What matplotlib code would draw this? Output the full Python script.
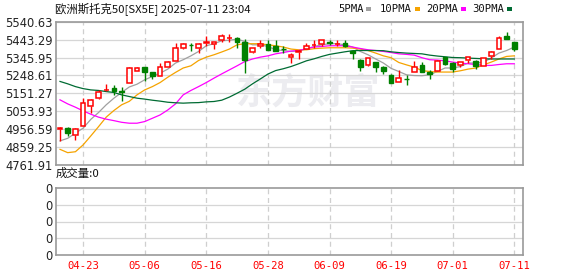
import numpy as np
import matplotlib
matplotlib.use('Agg')
import matplotlib.pyplot as plt
from matplotlib.patches import Rectangle

# ---------------- data ----------------
dates = ['04-16', '04-17', '04-22', '04-23', '04-24', '04-25', '04-28', '04-29', '04-30', '05-02',
         '05-05', '05-06', '05-07', '05-08', '05-09', '05-12', '05-13', '05-14', '05-15', '05-16',
         '05-19', '05-20', '05-21', '05-22', '05-23', '05-26', '05-27', '05-28', '05-29', '05-30',
         '06-02', '06-03', '06-04', '06-05', '06-06', '06-09', '06-10', '06-11', '06-12', '06-13',
         '06-16', '06-17', '06-18', '06-19', '06-20', '06-23', '06-24', '06-25', '06-26', '06-27',
         '06-30', '07-01', '07-02', '07-03', '07-04', '07-07', '07-08', '07-09', '07-10', '07-11']

opens = [4958, 4965, 4924, 4976, 5083, 5125, 5168, 5183, 5162, 5207,
         5275, 5292, 5265, 5248, 5294, 5328, 5397, 5416, 5397, 5427,
         5421, 5443, 5451, 5452, 5430, 5376, 5406, 5421, 5410, 5393,
         5348, 5376, 5392, 5414, 5421, 5428, 5420, 5425, 5384, 5334,
         5303, 5319, 5297, 5252, 5215, 5231, 5270, 5306, 5265, 5275,
         5348, 5316, 5306, 5334, 5328, 5301, 5352, 5392, 5461, 5430]
highs = [4967, 4970, 4962, 5125, 5121, 5170, 5203, 5198, 5185, 5292,
         5292, 5295, 5270, 5316, 5328, 5425, 5425, 5425, 5424, 5461,
         5432, 5475, 5475, 5455, 5448, 5400, 5439, 5439, 5439, 5406,
         5373, 5385, 5425, 5439, 5442, 5439, 5439, 5439, 5386, 5336,
         5346, 5321, 5299, 5255, 5279, 5252, 5328, 5324, 5279, 5331,
         5351, 5319, 5324, 5351, 5331, 5346, 5379, 5461, 5482, 5433]
lows = [4893, 4920, 4898, 4974, 5047, 5123, 5163, 5143, 5112, 5205,
        5273, 5221, 5229, 5245, 5292, 5326, 5392, 5384, 5373, 5406,
        5392, 5433, 5433, 5397, 5261, 5373, 5397, 5386, 5380, 5373,
        5316, 5337, 5390, 5397, 5410, 5415, 5410, 5404, 5337, 5275,
        5300, 5270, 5257, 5205, 5213, 5194, 5268, 5265, 5229, 5272,
        5306, 5270, 5294, 5316, 5283, 5299, 5337, 5390, 5444, 5379]
closes = [4964, 4938, 4960, 5098, 5116, 5161, 5170, 5165, 5160, 5289,
          5289, 5270, 5247, 5294, 5319, 5397, 5421, 5414, 5421, 5428,
          5430, 5461, 5452, 5433, 5334, 5397, 5421, 5388, 5383, 5392,
          5361, 5383, 5410, 5415, 5439, 5427, 5421, 5406, 5370, 5297,
          5343, 5297, 5275, 5207, 5237, 5229, 5297, 5268, 5256, 5328,
          5310, 5283, 5321, 5348, 5301, 5343, 5376, 5452, 5446, 5392]

ma5 = [4893, 4907, 4935, 4962, 5010, 5047, 5089, 5125, 5156, 5186,
       5201, 5225, 5243, 5261, 5283, 5316, 5334, 5355, 5379, 5410,
       5421, 5437, 5440, 5446, 5433, 5415, 5415, 5406, 5388, 5384,
       5379, 5382, 5392, 5406, 5415, 5421, 5421, 5415, 5403, 5379,
       5361, 5338, 5316, 5287, 5270, 5252, 5248, 5247, 5252, 5270,
       5289, 5289, 5297, 5316, 5316, 5321, 5343, 5370, 5384, 5403]
ma10 = [4847, 4829, 4834, 4871, 4920, 4970, 5022, 5058, 5089, 5108,
        5143, 5170, 5188, 5210, 5239, 5265, 5289, 5301, 5330, 5348,
        5361, 5376, 5392, 5415, 5421, 5421, 5421, 5415, 5410, 5403,
        5392, 5388, 5388, 5394, 5397, 5399, 5399, 5399, 5397, 5392,
        5384, 5370, 5355, 5345, 5319, 5306, 5294, 5275, 5270, 5267,
        5267, 5267, 5274, 5283, 5289, 5306, 5321, 5338, 5352, 5355]
ma20 = [5116, 5094, 5076, 5056, 5038, 5022, 5011, 5003, 4994, 4989,
        4989, 4998, 5016, 5034, 5061, 5094, 5143, 5167, 5188, 5210,
        5234, 5257, 5279, 5301, 5324, 5338, 5348, 5355, 5366, 5373,
        5381, 5384, 5394, 5403, 5406, 5410, 5410, 5410, 5403, 5395,
        5388, 5384, 5379, 5373, 5366, 5363, 5359, 5345, 5334, 5332,
        5328, 5321, 5316, 5312, 5308, 5303, 5303, 5308, 5312, 5312]
ma30 = [5216, 5203, 5188, 5177, 5170, 5167, 5161, 5156, 5143, 5134,
        5125, 5120, 5114, 5109, 5103, 5100, 5098, 5100, 5101, 5105,
        5107, 5114, 5131, 5152, 5174, 5203, 5229, 5256, 5275, 5285,
        5297, 5312, 5328, 5339, 5352, 5363, 5370, 5377, 5383, 5384,
        5384, 5384, 5383, 5377, 5373, 5370, 5368, 5366, 5359, 5354,
        5350, 5346, 5345, 5343, 5341, 5339, 5338, 5338, 5338, 5338]

price_ticks = [5540.63, 5443.29, 5345.95, 5248.61, 5151.27, 5053.93, 4956.59, 4859.25, 4761.91]
tick_dates = ['04-23', '05-06', '05-16', '05-28', '06-09', '06-19', '07-01', '07-11']
volume_label = '成交量:0'
title = '欧洲斯托克50[SX5E] 2025-07-11 23:04'
legend_names = ['5PMA', '10PMA', '20PMA', '30PMA']

# ---------------- style ----------------
W, H = 578, 276
RED = '#ff0000'
GREEN = '#008000'
MA_COLORS = ['#a0a0a0', '#f5a300', '#ff00ff', '#006b33']
FRAME = '#9a9a9a'
GRID = '#d6d6d6'
CJK = ['Noto Sans CJK SC', 'DejaVu Sans']

def fx(px):
    return px / W

def fy(py):
    return 1 - py / H

fig = plt.figure(figsize=(W / 100, H / 100), dpi=100)
fig.patch.set_facecolor('white')

L, R = 56, 522.7
ax = fig.add_axes([fx(L), fy(165), fx(R) - fx(L), fy(21.7) - fy(165)])
axv = fig.add_axes([fx(L), fy(255), fx(R) - fx(L), fy(188) - fy(255)])

x = np.arange(len(dates))
o = np.array(opens, float)
h = np.array(highs, float)
l = np.array(lows, float)
c = np.array(closes, float)
xlim = (-0.52, 60.09)

# watermark
ax.text(0.54, 0.50, '东方财富', transform=ax.transAxes, ha='center', va='center',
        fontsize=26, fontweight='bold', color='#ececf0', family=CJK, zorder=0)

# grid
for yv in price_ticks:
    ax.axhline(yv, color=GRID, lw=0.9, zorder=0.5)
tick_idx = [dates.index(d) for d in tick_dates]
for xi in tick_idx:
    ax.axvline(xi, color='#cfcfcf', lw=0.9, ls=(0, (4, 3)), zorder=0.5)

# MA lines
for arr, col in zip([ma5, ma10, ma20, ma30], MA_COLORS):
    ax.plot(x, arr, color=col, lw=0.9, zorder=2)

# candles
up = c >= o
lo_b = np.minimum(o, c)
hi_b = np.maximum(o, c)
bw = 0.62
ax.vlines(x[up], hi_b[up], h[up], color=RED, lw=1.0, zorder=3)
ax.vlines(x[up], l[up], lo_b[up], color=RED, lw=1.0, zorder=3)
ax.vlines(x[~up], l[~up], h[~up], color=GREEN, lw=1.0, zorder=3)
ax.bar(x[up], np.maximum(hi_b[up] - lo_b[up], 0.5), bottom=lo_b[up], width=bw,
       facecolor='white', edgecolor=RED, linewidth=1.1, zorder=4)
ax.bar(x[~up], np.maximum(hi_b[~up] - lo_b[~up], 0.5), bottom=lo_b[~up], width=bw,
       facecolor=GREEN, edgecolor=GREEN, linewidth=1.0, zorder=4)

ax.set_xlim(*xlim)
ax.set_ylim(price_ticks[-1], price_ticks[0])
ax.set_yticks(price_ticks)
ax.set_yticklabels([f'{v:.2f}' for v in price_ticks])
ax.set_xticks([])
ax.tick_params(axis='y', length=0, pad=2.5, labelsize=8.3, labelcolor='#222222')
for s in ax.spines.values():
    s.set_color(FRAME)
    s.set_linewidth(1.2)

# volume panel
axv.set_xlim(*xlim)
axv.set_ylim(0, 4)
vt = [0, 1, 2, 3, 4]
axv.set_yticks(vt)
axv.set_yticklabels(['0'] * len(vt))
for yv in vt[1:-1]:
    axv.axhline(yv, color=GRID, lw=0.9, zorder=0.5)
for xi in tick_idx:
    axv.axvline(xi, color='#cfcfcf', lw=0.9, ls=(0, (4, 3)), zorder=0.5)
axv.set_xticks(tick_idx)
axv.set_xticklabels(tick_dates, family='DejaVu Sans Mono', fontsize=7.6, color=RED)
axv.tick_params(axis='x', length=0, pad=4)
axv.tick_params(axis='y', length=0, pad=2.5, labelsize=8.3, labelcolor='#222222')
for s in axv.spines.values():
    s.set_color(FRAME)
    s.set_linewidth(1.2)

# texts
fig.text(fx(55), fy(9), title, ha='left', va='center', fontsize=8.2, family=CJK, color='#111111')
fig.text(fx(56), fy(173), volume_label, ha='left', va='center', fontsize=8.2, family=CJK, color='#111111')

leg_x = [338, 380, 426, 472]
sq_x = [366, 415, 461, 507]
for name, tx, sx, col in zip(legend_names, leg_x, sq_x, MA_COLORS):
    fig.text(fx(tx), fy(9), name, ha='left', va='center', fontsize=7.6,
             family='DejaVu Sans Mono', color='#111111')
    fig.patches.append(Rectangle((fx(sx), fy(11)), 5 / W, 4 / H, transform=fig.transFigure,
                                 facecolor=col, edgecolor='none'))

fig.savefig('out.png', dpi=100, facecolor='white')
